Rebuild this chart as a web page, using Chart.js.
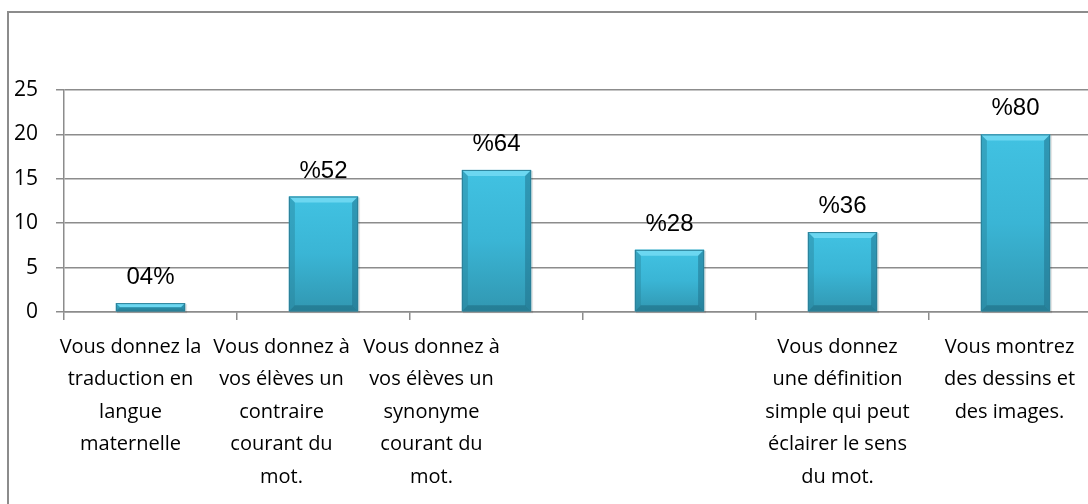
<!DOCTYPE html>
<html>
<head>
<meta charset="utf-8">
<script src="https://cdn.jsdelivr.net/npm/chart.js@4/dist/chart.umd.min.js"></script>
<style>
  html, body { margin: 0; padding: 0; background: #fff; overflow: hidden; width: 1088px; height: 504px; }
  #frame { position: absolute; left: 7px; top: 11px; width: 1200px; height: 600px; border: 2px solid #8c8c8c; }
  #chart { position: absolute; left: 0; top: 0; }
</style>
</head>
<body>
<div id="frame"></div>
<canvas id="chart" width="1110" height="504"></canvas>
<script>
const categories = [
  ['Vous donnez la', 'traduction en', 'langue', 'maternelle'],
  ['Vous donnez à', 'vos élèves un', 'contraire', 'courant du', 'mot.'],
  ['Vous donnez à', 'vos élèves un', 'synonyme', 'courant du', 'mot.'],
  '',
  ['Vous donnez', 'une définition', 'simple qui peut', 'éclairer le sens', 'du mot.'],
  ['Vous montrez', 'des dessins et', 'des images.']
];
const counts = [1, 13, 16, 7, 9, 20];
const pctLabels = ['04%', '%52', '%64', '%28', '%36', '%80'];
const yTicks = { min: 0, max: 25, step: 5 };

// the original's wrapped category labels sit a bit left of their bars
const labelShift = [-20, -42, -65, 0, -5, -6];
const labelFont = '20px "Open Sans", sans-serif';
const labelLine = 32.5;

const gridColor = '#8c8c8c';

// bevelled bars + value labels, drawn over the library's bar elements
const bevelBars = {
  id: 'bevelBars',
  afterDatasetsDraw(chart) {
    const ctx = chart.ctx;
    const meta = chart.getDatasetMeta(0);
    meta.data.forEach((bar, i) => {
      const left = bar.x - bar.width / 2, right = bar.x + bar.width / 2;
      const top = bar.y, bottom = bar.base;
      const h = bottom - top, w = right - left;
      const b = Math.min(6, h / 2);

      ctx.save();
      ctx.fillStyle = 'rgba(0,0,0,0.10)';
      ctx.fillRect(left + 1, top + 1, w + 1, h + 1);

      const g = ctx.createLinearGradient(0, top, 0, bottom);
      g.addColorStop(0, '#41c2e2');
      g.addColorStop(0.5, '#3ab5d5');
      g.addColorStop(1, '#3197b1');
      ctx.fillStyle = g;
      ctx.fillRect(left, top, w, h);

      // top bevel
      ctx.fillStyle = '#6cd7f1';
      ctx.beginPath();
      ctx.moveTo(left, top); ctx.lineTo(right, top);
      ctx.lineTo(right - b, top + b); ctx.lineTo(left + b, top + b);
      ctx.closePath(); ctx.fill();
      // left bevel
      ctx.fillStyle = 'rgba(40,130,155,0.45)';
      ctx.beginPath();
      ctx.moveTo(left, top); ctx.lineTo(left + b, top + b);
      ctx.lineTo(left + b, bottom - b); ctx.lineTo(left, bottom);
      ctx.closePath(); ctx.fill();
      // right bevel
      ctx.fillStyle = 'rgba(30,110,135,0.5)';
      ctx.beginPath();
      ctx.moveTo(right, top); ctx.lineTo(right - b, top + b);
      ctx.lineTo(right - b, bottom - b); ctx.lineTo(right, bottom);
      ctx.closePath(); ctx.fill();
      // bottom bevel
      ctx.fillStyle = 'rgba(25,95,115,0.45)';
      ctx.beginPath();
      ctx.moveTo(left, bottom); ctx.lineTo(left + b, bottom - b);
      ctx.lineTo(right - b, bottom - b); ctx.lineTo(right, bottom);
      ctx.closePath(); ctx.fill();

      ctx.strokeStyle = '#2c8098';
      ctx.lineWidth = 1;
      ctx.strokeRect(left + 0.5, top + 0.5, w - 1, h - 1);

      // value label
      ctx.fillStyle = '#000';
      ctx.font = '24px "Liberation Sans", Arial, sans-serif';
      ctx.textAlign = 'center';
      ctx.textBaseline = 'alphabetic';
      ctx.fillText(pctLabels[i], bar.x, top - 19);
      ctx.restore();
    });
  },
  afterDraw(chart) {
    const ctx = chart.ctx;
    const xs = chart.scales.x;
    ctx.save();
    ctx.fillStyle = '#000';
    ctx.font = labelFont;
    ctx.textAlign = 'center';
    ctx.textBaseline = 'middle';
    categories.forEach((lab, i) => {
      const lines = Array.isArray(lab) ? lab : [lab];
      const x = xs.getPixelForValue(i) + labelShift[i];
      lines.forEach((t, k) => ctx.fillText(t, x, xs.top + 35 + k * labelLine));
    });
    ctx.restore();
  }
};

new Chart(document.getElementById('chart'), {
  type: 'bar',
  data: {
    labels: categories,
    datasets: [{
      data: counts,
      backgroundColor: '#39b3d3',
      borderWidth: 0,
      barPercentage: 0.8,
      categoryPercentage: 0.5
    }]
  },
  options: {
    responsive: false,
    animation: false,
    layout: { padding: { top: 90, right: 8, left: 0, bottom: 0 } },
    plugins: { legend: { display: false }, tooltip: { enabled: false } },
    scales: {
      x: {
        afterFit: (s) => { s.height = 192; },
        grid: { display: true, drawOnChartArea: false, drawTicks: true, tickLength: 8, color: gridColor, lineWidth: 1.5, offset: true },
        border: { display: true, color: gridColor, width: 1.5 },
        ticks: { display: false, autoSkip: false, maxRotation: 0 }
      },
      y: {
        min: yTicks.min, max: yTicks.max,
        afterFit: (s) => { s.width = 64; },
        grid: { color: gridColor, lineWidth: 1.5, tickLength: 8, drawTicks: true },
        border: { display: true, color: gridColor, width: 1.5 },
        ticks: {
          stepSize: yTicks.step, padding: 18, color: '#000',
          font: { family: '"Open Sans", sans-serif', size: 21 }
        }
      }
    }
  },
  plugins: [bevelBars]
});
</script>
</body>
</html>
